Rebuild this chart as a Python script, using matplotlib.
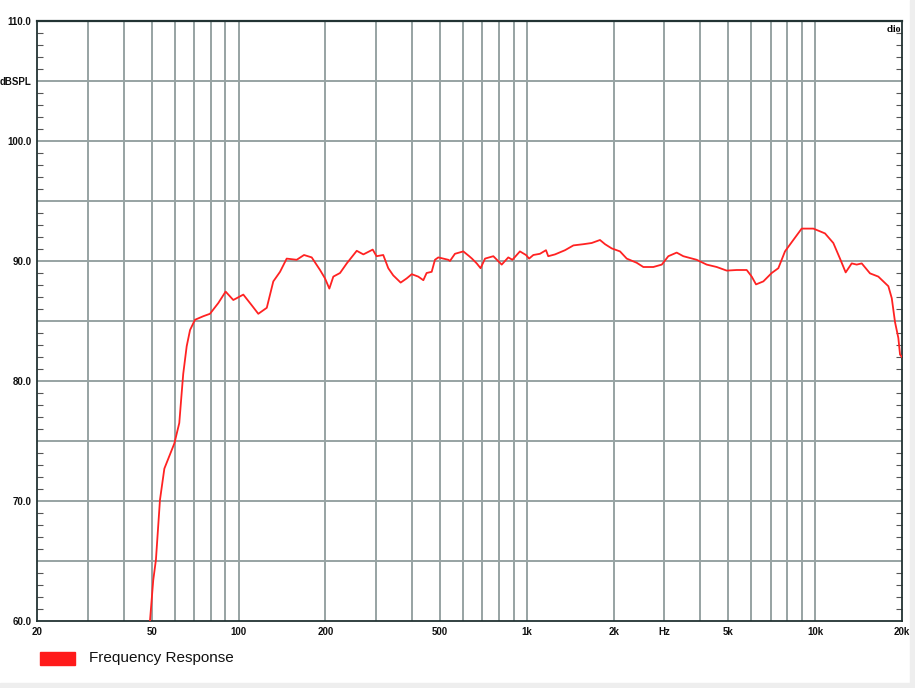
import numpy as np
import matplotlib
matplotlib.use("Agg")
import matplotlib.pyplot as plt
from matplotlib.patches import Rectangle
from matplotlib.ticker import FixedLocator, NullFormatter

# Frequency response
freq = [49.3, 50.6, 51.7, 53.4, 55.3, 59.9, 62.3, 63.5, 64.3, 66.1, 67.9, 70.6,
        75.5, 79.6, 85.1, 90.2, 95.9, 103.9, 111.2, 117.1, 125.3, 132, 139.3,
        146.9, 159.1, 168.7, 179.4, 191.7, 199.5, 206.5, 213.2, 224.9, 237.3,
        257, 271, 292, 301, 317.6, 330.6, 344, 365, 383, 398.8, 420, 437.5,
        449, 467.6, 480, 493, 534, 541, 563, 602, 631, 645, 670, 691, 716,
        765, 818, 862, 891, 946, 993, 1018, 1053, 1110, 1165, 1186, 1252,
        1356, 1450, 1570, 1678, 1793, 1867, 1969, 2104, 2220, 2405, 2535,
        2745, 2937, 3095, 3308, 3488, 3881, 4204, 4554, 4932, 5343, 5787,
        6023, 6234, 6609, 7065, 7449, 7856, 8395, 8976, 9853, 10813, 11557,
        12190, 12755, 13384, 13930, 14500, 15490, 16555, 17935, 18430, 18918,
        19420, 19690, 20000]
spl = [60.0, 63.4, 65.1, 70.1, 72.7, 74.8, 76.5, 79.0, 80.6, 82.9, 84.25, 85.1,
       85.4, 85.6, 86.5, 87.45, 86.75, 87.2, 86.3, 85.6, 86.1, 88.3, 89.1,
       90.2, 90.1, 90.5, 90.3, 89.25, 88.55, 87.7, 88.7, 89.0, 89.8,
       90.85, 90.55, 90.95, 90.4, 90.5, 89.4, 88.8, 88.2, 88.55, 88.9, 88.7, 88.4,
       89.0, 89.1, 90.1, 90.3, 90.1, 90.0, 90.6, 90.8, 90.4, 90.2, 89.8, 89.4, 90.2,
       90.4, 89.7, 90.3, 90.1, 90.8, 90.5, 90.2, 90.5, 90.6, 90.9, 90.4, 90.55,
       90.9, 91.3, 91.4, 91.5, 91.75, 91.4, 91.05, 90.8, 90.2, 89.85, 89.5,
       89.5, 89.7, 90.4, 90.7, 90.4, 90.1, 89.7, 89.5, 89.2, 89.25, 89.25,
       88.7, 88.05, 88.3, 89.0, 89.4, 90.8, 91.75, 92.7, 92.7, 92.3, 91.5,
       90.2, 89.05, 89.8, 89.7, 89.8, 88.97, 88.7, 87.9, 86.9, 84.9,
       83.6, 82.2, 82.0]

x_ticks = [20, 50, 100, 200, 500, 1000, 2000, 3000, 5000, 10000, 20000]
x_labels = ["20", "50", "100", "200", "500", "1k", "2k", "Hz", "5k", "10k", "20k"]
y_ticks = [60, 65, 70, 75, 80, 85, 90, 95, 100, 105, 110]
y_labels = ["60.0", "", "70.0", "", "80.0", "", "90.0", "", "100.0", "dBSPL", "110.0"]

plt.rcParams['font.family'] = ['Liberation Sans', 'DejaVu Sans']

fig = plt.figure(figsize=(9.15, 6.88), dpi=100)
fig.patch.set_facecolor("white")
# light frame at the right and bottom edge
fig.patches.append(Rectangle((910 / 915, 0), 5 / 915, 1, transform=fig.transFigure,
                             color="#eeeeee", zorder=0))
fig.patches.append(Rectangle((0, 0), 1, 5 / 688, transform=fig.transFigure,
                             color="#eeeeee", zorder=0))

ax = fig.add_axes([37 / 915, 1 - 621 / 688, 865 / 915, 600 / 688])
ax.set_xscale("log")
ax.set_xlim(20, 20000)
ax.set_ylim(60, 110)

grid_col = "#97a3a3"
vlines = [v * m for m in (10, 100, 1000) for v in range(1, 10)] + [10000]
vlines = [v for v in vlines if 20 < v <= 10000]
for v in vlines:
    ax.axvline(v, color=grid_col, lw=1.4, zorder=1)
for h in y_ticks[1:-1]:
    ax.axhline(h, color=grid_col, lw=1.4, zorder=1)

ax.plot(freq, spl, color="#ff2222", lw=1.3, zorder=3, clip_on=True)

ax.xaxis.set_major_locator(FixedLocator(x_ticks))
ax.xaxis.set_minor_locator(FixedLocator([]))
ax.xaxis.set_minor_formatter(NullFormatter())
ax.set_xticklabels(x_labels, fontweight="bold")
ax.tick_params(axis="x", length=0, pad=4, labelsize=7, colors="#111111")

ax.set_yticks(y_ticks)
ax.set_yticklabels(y_labels, fontweight="bold")
ax.yaxis.set_minor_locator(FixedLocator(np.arange(60, 111, 1)))
ax.tick_params(axis="y", which="major", length=0, pad=4, labelsize=7, colors="#111111")
ax.tick_params(axis="y", which="minor", direction="in", length=4, width=0.8,
               color="#555555", left=True, right=True)

for s in ax.spines.values():
    s.set_color("#223333")
    s.set_linewidth(1.3)
ax.spines["top"].set_linewidth(1.6)

ax.text(0.999, 0.993, "clio", transform=ax.transAxes, ha="right", va="top",
        fontsize=7, fontweight="bold", family="Liberation Serif")

# legend
fig.patches.append(Rectangle((40 / 915, 1 - 665 / 688), 35 / 915, 13 / 688,
                             transform=fig.transFigure, color="#ff1a1a"))
fig.text(89 / 915, 1 - 658 / 688, "Frequency Response", fontsize=11,
         va="center", ha="left", color="#111111")

fig.savefig("out.png", dpi=100)
